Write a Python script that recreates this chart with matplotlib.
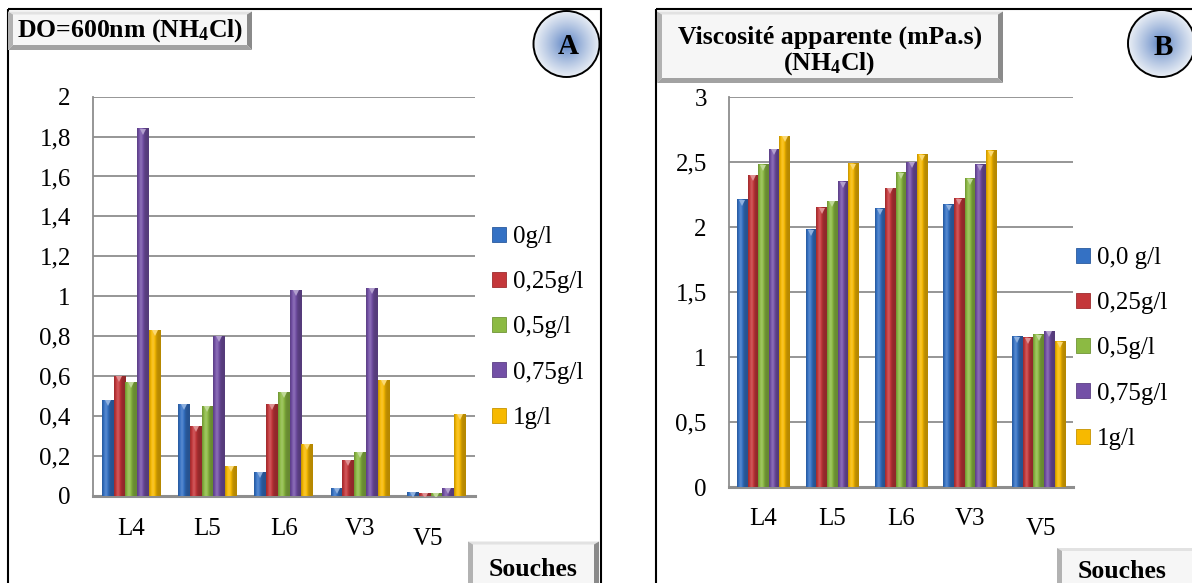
import numpy as np
import matplotlib
matplotlib.use("Agg")
import matplotlib.pyplot as plt
from matplotlib.patches import Rectangle, Circle, Polygon, Patch
from matplotlib.colors import to_rgb
import matplotlib.transforms as mtransforms

# ---------------------------------------------------------------- data
strains = ["L4", "L5", "L6", "V3", "V5"]

# Panel A : optical density at 600 nm vs NH4Cl concentration
od_series = ["0g/l", "0,25g/l", "0,5g/l", "0,75g/l", "1g/l"]
od_0 = [0.48, 0.46, 0.12, 0.04, 0.02]
od_025 = [0.60, 0.35, 0.46, 0.18, 0.015]
od_05 = [0.57, 0.45, 0.52, 0.22, 0.015]
od_075 = [1.84, 0.80, 1.03, 1.04, 0.04]
od_1 = [0.83, 0.15, 0.26, 0.58, 0.41]
od_ticks = [0, 0.2, 0.4, 0.6, 0.8, 1.0, 1.2, 1.4, 1.6, 1.8, 2.0]
od_ticklabels = ["0", "0,2", "0,4", "0,6", "0,8", "1", "1,2", "1,4", "1,6", "1,8", "2"]

# Panel B : apparent viscosity (mPa.s) vs NH4Cl concentration
visc_series = ["0,0 g/l", "0,25g/l", "0,5g/l", "0,75g/l", "1g/l"]
visc_0 = [2.21, 1.98, 2.14, 2.17, 1.16]
visc_025 = [2.40, 2.15, 2.30, 2.22, 1.15]
visc_05 = [2.48, 2.20, 2.42, 2.37, 1.17]
visc_075 = [2.60, 2.35, 2.50, 2.48, 1.20]
visc_1 = [2.70, 2.49, 2.56, 2.59, 1.12]
visc_ticks = [0, 0.5, 1.0, 1.5, 2.0, 2.5, 3.0]
visc_ticklabels = ["0", "0,5", "1", "1,5", "2", "2,5", "3"]

series_colors = ["#3471c4", "#c4373a", "#8cba43", "#7350a6", "#f7b900"]

# ---------------------------------------------------------------- style
plt.rcParams["font.family"] = ["Liberation Serif", "DejaVu Serif"]
plt.rcParams["mathtext.fontset"] = "custom"
plt.rcParams["mathtext.rm"] = "Liberation Serif:bold"
plt.rcParams["mathtext.it"] = "Liberation Serif:bold"
plt.rcParams["mathtext.bf"] = "Liberation Serif:bold"

W, H = 1192, 583
fig = plt.figure(figsize=(W / 100, H / 100), dpi=100)
fig.patch.set_facecolor("white")

# full-figure overlay working in pixel units (y downwards)
deco = fig.add_axes([0, 0, 1, 1], zorder=0)
deco.set_xlim(0, W)
deco.set_ylim(H, 0)
deco.axis("off")

GRID = "#8e8e8e"
TICK_FS = 18
TITLE_FS = 18.5


def px_axes(left, top, right, bottom):
    return fig.add_axes([left / W, 1 - bottom / H, (right - left) / W, (bottom - top) / H], zorder=2)


def shade(color, p):
    base = np.array(to_rgb(color))
    if p <= 1:
        return base * p
    return base + (1 - base) * (p - 1)


def cylinder_bars(ax, x, heights, width, color):
    bars = ax.bar(x, heights, width, color=color, edgecolor="none", zorder=2)
    t = np.linspace(0, 1, 40)
    prof = 0.74 + 0.42 * np.exp(-((t - 0.33) / 0.24) ** 2)
    img = np.array([[shade(color, p) for p in prof]])
    for b in bars:
        ax.imshow(img, extent=(b.get_x(), b.get_x() + b.get_width(), 0, b.get_height()),
                  aspect="auto", interpolation="bilinear", zorder=3)
    # small bevelled notch at the top of each bar
    off = mtransforms.ScaledTranslation(0, -2.2 / 72, fig.dpi_scale_trans)
    ax.plot(x, heights, ls="none", marker="v", ms=4.2, mew=0,
            color=shade(color, 1.45), zorder=4, transform=ax.transData + off)
    return bars


def bar_panel(ax, values, ymax, ticks, ticklabels, last_dx, last_dy, xpad):
    n = len(values)
    idx = np.arange(len(strains))
    w = 0.154
    for i, (vals, col) in enumerate(zip(values, series_colors)):
        cylinder_bars(ax, idx + (i - (n - 1) / 2) * w, vals, w * 0.99, col)
    ax.set_xlim(-0.5, len(strains) - 0.5)
    ax.set_ylim(0, ymax)
    ax.set_yticks(ticks, labels=ticklabels)
    ax.set_xticks(idx, labels=strains)
    ax.tick_params(axis="y", length=0, pad=16, labelsize=TICK_FS)
    ax.tick_params(axis="x", length=0, pad=xpad, labelsize=TICK_FS)
    lab = ax.get_xticklabels()[-1]
    lab.set_transform(lab.get_transform() +
                      mtransforms.ScaledTranslation(last_dx / 100, -last_dy / 100, fig.dpi_scale_trans))
    ax.yaxis.grid(True, color=GRID, lw=1.3, zorder=0)
    ax.set_axisbelow(True)
    for s in ("top", "right"):
        ax.spines[s].set_visible(False)
    ax.spines["left"].set_color(GRID)
    ax.spines["left"].set_linewidth(1.3)
    ax.spines["bottom"].set_color(GRID)
    ax.spines["bottom"].set_linewidth(2.2)
    ax.set_facecolor("none")


def legend(ax, labels, x_px, y_px, spacing):
    handles = [Patch(facecolor=c, edgecolor=shade(c, 0.8), lw=0.6) for c in series_colors]
    ax.legend(handles, labels, loc="upper left", bbox_to_anchor=(x_px / W, 1 - y_px / H),
              bbox_transform=fig.transFigure, frameon=False, fontsize=TICK_FS,
              handlelength=0.55, handleheight=0.55, handletextpad=0.3,
              labelspacing=spacing, borderpad=0, borderaxespad=0)


def bevel_box(x0, y0, x1, y1, b=5):
    deco.add_patch(Rectangle((x0, y0), x1 - x0, y1 - y0, facecolor="#f6f6f6", edgecolor="none", zorder=3))
    sides = [
        ([(x0, y0), (x1, y0), (x1 - b, y0 + b * 0.6), (x0 + b, y0 + b * 0.6)], "#e2e2e2"),
        ([(x0, y0), (x0 + b, y0 + b * 0.6), (x0 + b, y1 - b), (x0, y1)], "#b2b2b2"),
        ([(x1, y0), (x1, y1), (x1 - b, y1 - b), (x1 - b, y0 + b * 0.6)], "#8a8a8a"),
        ([(x0, y1), (x1, y1), (x1 - b, y1 - b), (x0 + b, y1 - b)], "#a2a2a2"),
    ]
    for pts, col in sides:
        deco.add_patch(Polygon(pts, closed=True, facecolor=col, edgecolor="none", zorder=4))


def badge(cx, cy, r, letter, tx, ty):
    n = 200
    yy, xx = np.mgrid[-1:1:n * 1j, -1:1:n * 1j]
    rr = np.clip(np.hypot(xx, yy), 0, 1)[..., None] ** 0.75
    inner = np.array(to_rgb("#4d78bf"))
    outer = np.array(to_rgb("#e9eef5"))
    img = inner * (1 - rr) + outer * rr
    im = deco.imshow(img, extent=(cx - r, cx + r, cy + r, cy - r), aspect="auto", zorder=5,
                     interpolation="bilinear")
    circ = Circle((cx, cy), r, facecolor="none", edgecolor="black", lw=1.4, zorder=6)
    deco.add_patch(circ)
    im.set_clip_path(circ)
    deco.text(tx, ty, letter, ha="center", va="center", fontsize=21, fontweight="bold", zorder=7)


# ---------------------------------------------------------------- frames
deco.add_patch(Rectangle((8, 9), 601 - 8, 620, facecolor="none", edgecolor="black", lw=1.5, zorder=1))
deco.add_patch(Rectangle((656, 9), 700, 620, facecolor="none", edgecolor="black", lw=1.5, zorder=1))

# ---------------------------------------------------------------- panel A
axA = px_axes(93, 96.7, 474.5, 495.7)
bar_panel(axA, [od_0, od_025, od_05, od_075, od_1], 2.0,
          od_ticks, od_ticklabels, last_dx=-8, last_dy=10, xpad=16)
legend(axA, od_series, 492, 226, 0.93)

bevel_box(8, 11.5, 252, 50)
deco.text(130, 31, r"DO=600nm (NH$_4$Cl)", ha="center", va="center",
          fontsize=TITLE_FS, fontweight="bold", zorder=6)
badge(566.5, 44, 33, "A", 568, 47)

bevel_box(468, 541.5, 599, 592)
deco.text(533, 576, "Souches", ha="center", va="baseline", fontsize=TITLE_FS, fontweight="bold", zorder=6)

# ---------------------------------------------------------------- panel B
axB = px_axes(729, 97.3, 1073, 487.3)
bar_panel(axB, [visc_0, visc_025, visc_05, visc_075, visc_1], 3.0,
          visc_ticks, visc_ticklabels, last_dx=2, last_dy=10, xpad=15)
legend(axB, visc_series, 1076, 247, 0.93)

bevel_box(657, 11.5, 1003, 83)
deco.text(830, 37, "Viscosité apparente (mPa.s)", ha="center", va="center",
          fontsize=TITLE_FS, fontweight="bold", zorder=6)
deco.text(829, 64, r"(NH$_4$Cl)", ha="center", va="center",
          fontsize=TITLE_FS, fontweight="bold", zorder=6)
badge(1161.5, 43.5, 33.5, "B", 1163.5, 47.5)

bevel_box(1057, 548, 1197, 600)
deco.text(1122, 578, "Souches", ha="center", va="baseline", fontsize=TITLE_FS, fontweight="bold", zorder=6)

fig.savefig("out.png", dpi=100, facecolor="white")
